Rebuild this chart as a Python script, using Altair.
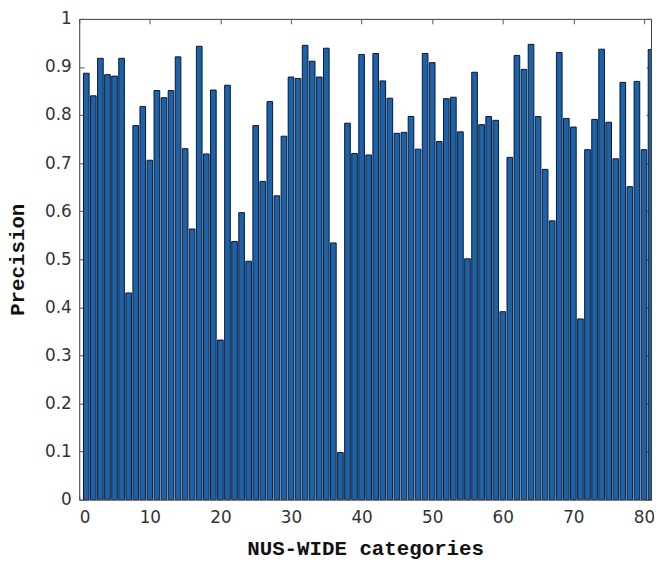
import altair as alt
import pandas as pd

categories = list(range(1, 82))
precision = [
    0.887, 0.840, 0.918, 0.884, 0.881, 0.918, 0.430, 0.778, 0.818, 0.706,
    0.851, 0.836, 0.851, 0.921, 0.730, 0.563, 0.943, 0.719, 0.852, 0.332,
    0.862, 0.537, 0.597, 0.496, 0.778, 0.662, 0.828, 0.632, 0.756, 0.879,
    0.876, 0.945, 0.912, 0.879, 0.939, 0.534, 0.098, 0.783, 0.720, 0.926,
    0.717, 0.928, 0.871, 0.835, 0.762, 0.764, 0.797, 0.729, 0.928, 0.909,
    0.745, 0.834, 0.837, 0.765, 0.501, 0.889, 0.780, 0.797, 0.789, 0.391,
    0.712, 0.924, 0.895, 0.947, 0.797, 0.687, 0.580, 0.930, 0.793, 0.775,
    0.376, 0.728, 0.791, 0.937, 0.785, 0.709, 0.868, 0.651, 0.870, 0.728,
    0.936,
]
x_ticks = [0, 10, 20, 30, 40, 50, 60, 70, 80]
y_ticks = [0, 0.1, 0.2, 0.3, 0.4, 0.5, 0.6, 0.7, 0.8, 0.9, 1]

df = pd.DataFrame({"category": categories, "precision": precision})

xs = alt.Scale(domain=[0, 81], nice=False, zero=False)
ys = alt.Scale(domain=[0, 1], nice=False)

label_font = "DejaVu Sans"
title_font = "Liberation Mono"

W = 578
H = 486

base = alt.Chart(df).transform_calculate(
    x0="datum.category - 0.4", x1="datum.category + 0.4"
)

bars = base.mark_bar(
    fill="#1c62a8", stroke="#0a1630", strokeWidth=1, clip=True
).encode(
    x=alt.X(
        "x0:Q",
        scale=xs,
        axis=alt.Axis(
            values=x_ticks, format="d", title="NUS-WIDE categories",
            grid=False, domain=False, tickSize=5, offset=-5, labelPadding=10,
            tickColor="#555555", labelColor="#333333",
            labelFont=label_font, labelFontSize=17, labelFontWeight="normal",
            titleFont=title_font, titleFontSize=21, titleFontWeight="bold",
            titleColor="#111111", titleX=W / 2, titleY=54,
            titleBaseline="middle", titleAlign="center",
        ),
    ),
    x2="x1:Q",
    y=alt.Y(
        "precision:Q",
        scale=ys,
        axis=alt.Axis(
            values=y_ticks, format="~g", title="Precision",
            grid=False, domain=False, tickSize=5, offset=-5, labelPadding=8,
            tickColor="#555555", labelColor="#333333",
            labelFont=label_font, labelFontSize=17, labelFontWeight="normal",
            titleFont=title_font, titleFontSize=21, titleFontWeight="bold",
            titleColor="#111111", titleX=-67, titleY=243, titleAngle=270,
            titleBaseline="middle", titleAlign="center",
        ),
    ),
    y2=alt.datum(0),
)

frame = base.mark_bar(opacity=0).encode(
    x=alt.X(
        "x0:Q",
        scale=xs,
        axis=alt.Axis(
            orient="top", values=x_ticks, labels=False, title="",
            grid=False, domain=False, tickSize=5, offset=-5,
            tickColor="#555555",
        ),
    ),
    x2="x1:Q",
    y=alt.Y(
        "precision:Q",
        scale=ys,
        axis=alt.Axis(
            orient="right", values=y_ticks, labels=False, title="",
            grid=False, domain=False, tickSize=5, offset=-5,
            tickColor="#555555",
        ),
    ),
    y2=alt.datum(0),
)

chart = (
    alt.layer(bars, frame)
    .resolve_axis(x="independent", y="independent")
    .properties(
        width=W,
        height=H,
        autosize=alt.AutoSizeParams(type="none"),
        padding={"left": 72, "top": 8, "right": 3, "bottom": 60},
        background="white",
    )
    .configure_view(stroke="#3a3a3a", strokeWidth=1)
)

chart.save("out.html", embed_options={"renderer": "svg", "actions": False})
